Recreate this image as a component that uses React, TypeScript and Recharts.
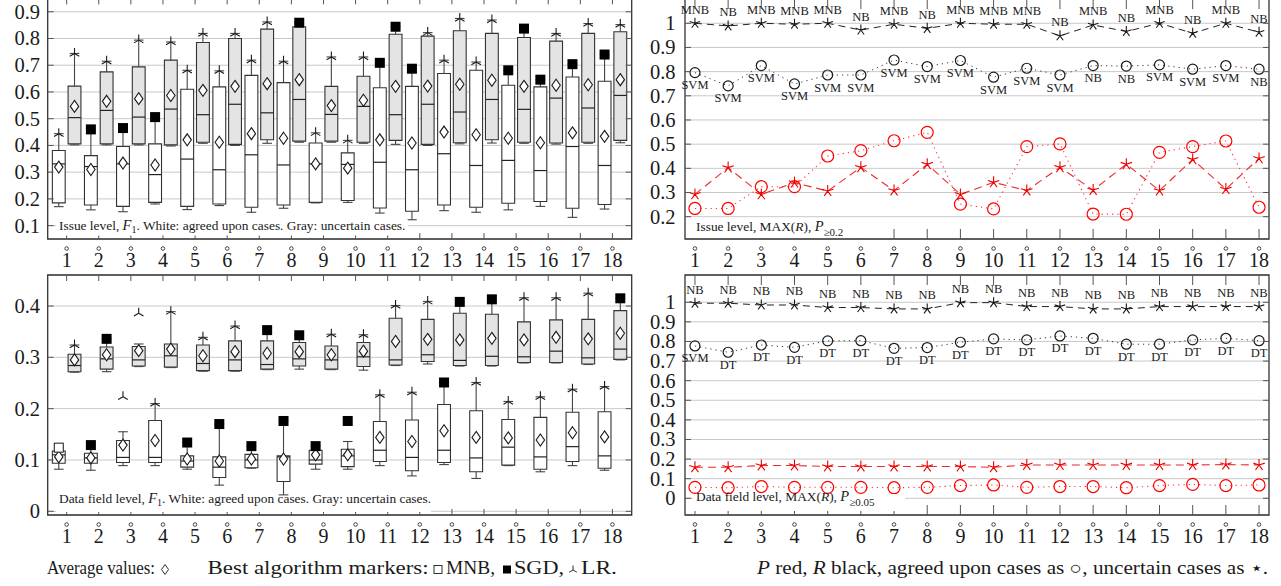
import React from 'react'
import { CartesianGrid, ComposedChart, Line, ReferenceArea, ReferenceLine, Scatter, XAxis, YAxis } from 'recharts'

const FONT = '"Liberation Serif", "Times New Roman", Times, serif'
const INK = '#1a1a1a'

const categories = [1, 2, 3, 4, 5, 6, 7, 8, 9, 10, 11, 12, 13, 14, 15, 16, 17, 18]

// boxes: [low whisker, q1, median, q3, high whisker]
const issueAgreedBoxes = [
  [0.171, 0.185, 0.331, 0.381, 0.444],
  [0.159, 0.177, 0.321, 0.362, 0.46],
  [0.152, 0.172, 0.331, 0.396, 0.465],
  [0.181, 0.187, 0.291, 0.406, 0.506],
  [0.16, 0.172, 0.349, 0.61, 0.681],
  [0.175, 0.181, 0.309, 0.619, 0.679],
  [0.15, 0.169, 0.365, 0.662, 0.719],
  [0.165, 0.177, 0.327, 0.635, 0.715],
  [0.185, 0.187, 0.331, 0.409, 0.447],
  [0.187, 0.194, 0.329, 0.372, 0.419],
  [0.147, 0.166, 0.337, 0.616, 0.709],
  [0.122, 0.154, 0.309, 0.621, 0.687],
  [0.156, 0.177, 0.369, 0.669, 0.719],
  [0.15, 0.169, 0.325, 0.681, 0.712],
  [0.159, 0.184, 0.344, 0.625, 0.681],
  [0.172, 0.19, 0.306, 0.619, 0.646],
  [0.131, 0.165, 0.396, 0.656, 0.704],
  [0.162, 0.179, 0.325, 0.64, 0.74],
]
const issueAgreedMeans = [0.319, 0.31, 0.334, 0.327, 0.421, 0.412, 0.444, 0.427, 0.331, 0.315, 0.421, 0.409, 0.45, 0.44, 0.427, 0.41, 0.447, 0.434]
const issueAgreedBest = [0.444, 0.46, 0.465, 0.506, 0.681, 0.679, 0.719, 0.715, 0.447, 0.419, 0.709, 0.687, 0.719, 0.712, 0.681, 0.646, 0.704, 0.74]
const issueAgreedAlgo = ['LR', 'SGD', 'SGD', 'SGD', 'LR', 'LR', 'LR', 'LR', 'LR', 'LR', 'SGD', 'SGD', 'LR', 'LR', 'SGD', 'SGD', 'SGD', 'SGD']

const issueUncertainBoxes = [
  [0.402, 0.406, 0.504, 0.622, 0.744],
  [0.402, 0.406, 0.531, 0.675, 0.715],
  [0.402, 0.406, 0.506, 0.694, 0.794],
  [0.398, 0.402, 0.536, 0.719, 0.787],
  [0.408, 0.412, 0.515, 0.785, 0.819],
  [0.4, 0.404, 0.554, 0.8, 0.819],
  [0.408, 0.421, 0.522, 0.835, 0.862],
  [0.412, 0.416, 0.572, 0.844, 0.859],
  [0.412, 0.416, 0.516, 0.621, 0.731],
  [0.408, 0.412, 0.546, 0.659, 0.731],
  [0.404, 0.419, 0.515, 0.816, 0.844],
  [0.4, 0.404, 0.554, 0.809, 0.822],
  [0.406, 0.41, 0.525, 0.829, 0.875],
  [0.409, 0.421, 0.572, 0.819, 0.869],
  [0.408, 0.412, 0.535, 0.804, 0.837],
  [0.405, 0.409, 0.577, 0.79, 0.819],
  [0.408, 0.412, 0.54, 0.819, 0.856],
  [0.41, 0.419, 0.587, 0.825, 0.852],
]
const issueUncertainMeans = [0.546, 0.565, 0.575, 0.587, 0.606, 0.621, 0.631, 0.646, 0.549, 0.569, 0.621, 0.622, 0.629, 0.644, 0.621, 0.625, 0.627, 0.646]
const issueUncertainBest = [0.744, 0.715, 0.794, 0.787, 0.819, 0.819, 0.862, 0.859, 0.731, 0.731, 0.844, 0.822, 0.875, 0.869, 0.837, 0.819, 0.856, 0.852]
const issueUncertainAlgo = ['LR', 'LR', 'LR', 'LR', 'LR', 'LR', 'LR', 'SGD', 'LR', 'LR', 'SGD', 'LR', 'LR', 'LR', 'SGD', 'LR', 'LR', 'LR']

const fieldAgreedBoxes = [
  [0.082, 0.0935, 0.11, 0.1175, 0.124],
  [0.08, 0.0935, 0.104, 0.113, 0.129],
  [0.089, 0.095, 0.105, 0.138, 0.155],
  [0.089, 0.095, 0.105, 0.177, 0.21],
  [0.082, 0.086, 0.098, 0.108, 0.134],
  [0.051, 0.066, 0.086, 0.106, 0.17],
  [0.084, 0.085, 0.1, 0.111, 0.127],
  [0.032, 0.058, 0.106, 0.108, 0.176],
  [0.082, 0.092, 0.1, 0.119, 0.127],
  [0.082, 0.087, 0.108, 0.121, 0.136],
  [0.089, 0.097, 0.119, 0.175, 0.227],
  [0.069, 0.079, 0.105, 0.178, 0.232],
  [0.091, 0.095, 0.119, 0.208, 0.251],
  [0.064, 0.077, 0.104, 0.196, 0.251],
  [0.089, 0.09, 0.125, 0.179, 0.214],
  [0.077, 0.082, 0.106, 0.183, 0.223],
  [0.089, 0.097, 0.126, 0.193, 0.238],
  [0.08, 0.084, 0.108, 0.194, 0.243],
]
const fieldAgreedMeans = [0.106, 0.104, 0.129, 0.138, 0.102, 0.098, 0.102, 0.102, 0.11, 0.11, 0.144, 0.136, 0.157, 0.144, 0.143, 0.139, 0.153, 0.145]
const fieldAgreedBest = [0.124, 0.129, 0.223, 0.21, 0.134, 0.17, 0.127, 0.176, 0.127, 0.176, 0.227, 0.232, 0.251, 0.251, 0.214, 0.223, 0.238, 0.243]
const fieldAgreedAlgo = ['MNB', 'SGD', 'LR', 'LR', 'SGD', 'SGD', 'SGD', 'SGD', 'SGD', 'SGD', 'LR', 'LR', 'SGD', 'LR', 'LR', 'LR', 'LR', 'LR']

const fieldUncertainBoxes = [
  [0.271, 0.272, 0.284, 0.306, 0.324],
  [0.272, 0.277, 0.297, 0.32, 0.336],
  [0.282, 0.283, 0.295, 0.321, 0.326],
  [0.28, 0.281, 0.303, 0.326, 0.389],
  [0.273, 0.274, 0.288, 0.324, 0.339],
  [0.273, 0.274, 0.295, 0.332, 0.361],
  [0.276, 0.277, 0.286, 0.332, 0.353],
  [0.277, 0.283, 0.297, 0.329, 0.343],
  [0.276, 0.277, 0.295, 0.322, 0.345],
  [0.275, 0.282, 0.301, 0.329, 0.344],
  [0.284, 0.285, 0.295, 0.376, 0.401],
  [0.287, 0.292, 0.305, 0.374, 0.409],
  [0.283, 0.284, 0.294, 0.386, 0.408],
  [0.283, 0.284, 0.302, 0.384, 0.413],
  [0.289, 0.29, 0.301, 0.369, 0.416],
  [0.289, 0.29, 0.312, 0.373, 0.416],
  [0.286, 0.287, 0.299, 0.374, 0.425],
  [0.295, 0.296, 0.316, 0.391, 0.415],
]
const fieldUncertainMeans = [0.295, 0.305, 0.313, 0.316, 0.303, 0.311, 0.308, 0.311, 0.305, 0.312, 0.331, 0.335, 0.334, 0.337, 0.334, 0.339, 0.336, 0.347]
const fieldUncertainBest = [0.324, 0.336, 0.386, 0.389, 0.339, 0.361, 0.353, 0.343, 0.345, 0.344, 0.401, 0.409, 0.408, 0.413, 0.416, 0.416, 0.425, 0.415]
const fieldUncertainAlgo = ['LR', 'SGD', 'LR', 'LR', 'LR', 'LR', 'SGD', 'SGD', 'LR', 'LR', 'LR', 'LR', 'SGD', 'SGD', 'LR', 'LR', 'LR', 'SGD']

// right panels: R black, P red; agreed = circle, uncertain = star
const issueRecallUncertain = [1.0, 0.989, 1.0, 0.996, 1.0, 0.972, 0.996, 0.979, 1.0, 0.996, 0.996, 0.948, 0.993, 0.966, 1.0, 0.959, 1.0, 0.963]
const issueRecallUncertainAlgo = ['MNB', 'NB', 'MNB', 'MNB', 'MNB', 'NB', 'MNB', 'NB', 'MNB', 'MNB', 'MNB', 'NB', 'MNB', 'NB', 'MNB', 'NB', 'MNB', 'NB']
const issueRecallAgreed = [0.796, 0.741, 0.825, 0.749, 0.786, 0.786, 0.848, 0.821, 0.846, 0.777, 0.814, 0.786, 0.825, 0.823, 0.828, 0.81, 0.825, 0.81]
const issueRecallAgreedAlgo = ['SVM', 'SVM', 'SVM', 'SVM', 'SVM', 'SVM', 'SVM', 'SVM', 'SVM', 'SVM', 'SVM', 'SVM', 'NB', 'NB', 'SVM', 'SVM', 'SVM', 'NB']
const issuePrecisionUncertain = [0.292, 0.403, 0.292, 0.341, 0.306, 0.404, 0.308, 0.417, 0.292, 0.342, 0.308, 0.404, 0.31, 0.417, 0.308, 0.437, 0.314, 0.441]
const issuePrecisionAgreed = [0.234, 0.234, 0.324, 0.324, 0.451, 0.473, 0.514, 0.549, 0.252, 0.232, 0.49, 0.501, 0.211, 0.21, 0.466, 0.49, 0.513, 0.239]

const fieldRecallUncertain = [0.995, 0.995, 0.986, 0.986, 0.973, 0.973, 0.966, 0.966, 0.998, 0.998, 0.978, 0.978, 0.966, 0.966, 0.978, 0.978, 0.978, 0.978]
const fieldRecallUncertainAlgo = ['NB', 'NB', 'NB', 'NB', 'NB', 'NB', 'NB', 'NB', 'NB', 'NB', 'NB', 'NB', 'NB', 'NB', 'NB', 'NB', 'NB', 'NB']
const fieldRecallAgreed = [0.777, 0.745, 0.782, 0.77, 0.803, 0.804, 0.765, 0.769, 0.796, 0.813, 0.808, 0.828, 0.816, 0.786, 0.786, 0.808, 0.816, 0.804]
const fieldRecallAgreedAlgo = ['SVM', 'DT', 'DT', 'DT', 'DT', 'DT', 'DT', 'DT', 'DT', 'DT', 'DT', 'DT', 'DT', 'DT', 'DT', 'DT', 'DT', 'DT']
const fieldPrecisionUncertain = [0.158, 0.158, 0.167, 0.167, 0.162, 0.162, 0.162, 0.162, 0.162, 0.158, 0.17, 0.17, 0.17, 0.17, 0.17, 0.17, 0.172, 0.17]
const fieldPrecisionAgreed = [0.056, 0.054, 0.06, 0.056, 0.056, 0.056, 0.054, 0.056, 0.065, 0.068, 0.056, 0.06, 0.06, 0.054, 0.065, 0.071, 0.065, 0.068]

const issueF1Ticks = [0.1, 0.2, 0.3, 0.4, 0.5, 0.6, 0.7, 0.8, 0.9]
const fieldF1Ticks = [0, 0.1, 0.2, 0.3, 0.4]
const issueMaxTicks = [0.2, 0.3, 0.4, 0.5, 0.6, 0.7, 0.8, 0.9, 1]
const fieldMaxTicks = [0, 0.1, 0.2, 0.3, 0.4, 0.5, 0.6, 0.7, 0.8, 0.9, 1]

const fmtTick = (v: number) => (v === 0 ? '0' : v === 1 ? '1' : v.toFixed(1))

function YTick(props: any) {
  const { y, payload, plotL, plotR, gap } = props
  return (
    <g>
      <line x1={plotL} x2={plotL + 6} y1={y} y2={y} stroke="#555" />
      <line x1={plotR - 6} x2={plotR} y1={y} y2={y} stroke="#555" />
      <text x={plotL - gap} y={y} dy="0.34em" textAnchor="end" fontFamily={FONT} fontSize={20.5} fill={INK}>
        {fmtTick(payload.value)}
      </text>
    </g>
  )
}

function XTick(props: any) {
  const { x, payload, plotT, plotB, len } = props
  return (
    <g>
      <line x1={x} x2={x} y1={plotB} y2={plotB - len} stroke="#555" />
      <line x1={x} x2={x} y1={plotT} y2={plotT + len} stroke="#555" />
      <circle cx={x} cy={plotB + 9.5} r={1.8} fill="none" stroke={INK} strokeWidth={0.8} />
      <text x={x} y={plotB + 27.5} textAnchor="middle" fontFamily={FONT} fontSize={20} fill={INK}>
        {payload.value}
      </text>
    </g>
  )
}

function starPath(cx: number, cy: number, r: number) {
  let d = ''
  for (let k = 0; k < 5; k++) {
    const a = ((-90 + 72 * k) * Math.PI) / 180
    d += `M${cx},${cy}L${cx + r * Math.cos(a)},${cy + r * Math.sin(a)}`
  }
  return d
}

function triPath(cx: number, cy: number, r: number) {
  return [-90, 30, 150]
    .map((deg) => {
      const a = (deg * Math.PI) / 180
      return `M${cx},${cy}L${cx + r * Math.cos(a)},${cy + r * Math.sin(a)}`
    })
    .join('')
}

const Diamond = (p: any) => (
  <path
    d={`M${p.cx},${p.cy - 6}L${p.cx + 4.2},${p.cy}L${p.cx},${p.cy + 6}L${p.cx - 4.2},${p.cy}Z`}
    fill="#fff"
    stroke={INK}
    strokeWidth={1.1}
  />
)

const BestMarker = (p: any) => {
  const { cx, cy, payload } = p
  if (payload.algo === 'SGD') return <rect x={cx - 5} y={cy - 5} width={10} height={10} fill="#000" />
  if (payload.algo === 'MNB')
    return <rect x={cx - 4.5} y={cy - 4.5} width={9} height={9} fill="#fff" stroke={INK} strokeWidth={1} />
  return <path d={triPath(cx, cy, 5.5)} stroke={INK} strokeWidth={1.1} fill="none" />
}

type Group = { boxes: number[][]; means: number[]; best: number[]; algo: string[] }

function BoxPanel({
  top,
  marginTop,
  plotH,
  yDomain,
  yTicks,
  agreed,
  uncertain,
}: {
  top: number
  marginTop: number
  plotH: number
  yDomain: [number, number]
  yTicks: number[]
  agreed: Group
  uncertain: Group
}) {
  const W = 640
  const yW = 47.7
  const mr = 8.3
  const xH = 34
  const H = marginTop + plotH + xH
  const xDomain: [number, number] = [0.41, 18.6]
  const off = 0.245
  const hw = 0.2
  const cap = 0.15
  const groups = [
    { dx: -off, fill: '#ffffff', ...agreed },
    { dx: off, fill: '#e4e4e4', ...uncertain },
  ]
  const meanPts = groups.flatMap((g) => categories.map((c, i) => ({ x: c + g.dx, y: g.means[i] })))
  const bestPts = groups.flatMap((g) => categories.map((c, i) => ({ x: c + g.dx, y: g.best[i], algo: g.algo[i] })))
  const whisker = { stroke: '#444', strokeWidth: 1.1 }
  return (
    <div style={{ position: 'absolute', left: 0, top }}>
      <ComposedChart width={W} height={H} margin={{ top: marginTop, right: mr, bottom: 0, left: 0 }}>
        <CartesianGrid vertical={false} stroke="#c9c9c9" />
        <XAxis
          type="number"
          dataKey="x"
          domain={xDomain}
          ticks={categories}
          interval={0}
          allowDataOverflow
          axisLine={false}
          tickLine={false}
          height={xH}
          tick={<XTick plotT={marginTop} plotB={marginTop + plotH} len={6} />}
        />
        <YAxis
          type="number"
          domain={yDomain}
          ticks={yTicks}
          interval={0}
          allowDataOverflow
          axisLine={false}
          tickLine={false}
          width={yW}
          tick={<YTick plotL={yW} plotR={W - mr} gap={7.7} />}
        />
        <ReferenceArea x1={xDomain[0]} x2={xDomain[1]} y1={yDomain[0]} y2={yDomain[1]} fill="none" stroke="#333" strokeWidth={1.3} ifOverflow="visible" />
        {groups.map((g, gi) =>
          categories.map((c, i) => {
            const [lo, q1, md, q3, hi] = g.boxes[i]
            const x = c + g.dx
            return (
              <React.Fragment key={`b${gi}-${i}`}>
                <ReferenceLine segment={[{ x, y: lo }, { x, y: q1 }]} {...whisker} />
                <ReferenceLine segment={[{ x, y: q3 }, { x, y: hi }]} {...whisker} />
                <ReferenceLine segment={[{ x: x - cap, y: lo }, { x: x + cap, y: lo }]} {...whisker} />
                <ReferenceLine segment={[{ x: x - cap, y: hi }, { x: x + cap, y: hi }]} {...whisker} />
                <ReferenceArea x1={x - hw} x2={x + hw} y1={q1} y2={q3} fill={g.fill} fillOpacity={1} stroke="#333" strokeWidth={1.1} />
                <ReferenceLine segment={[{ x: x - hw, y: md }, { x: x + hw, y: md }]} stroke="#222" strokeWidth={1.2} />
              </React.Fragment>
            )
          }),
        )}
        <Scatter data={meanPts} dataKey="y" shape={Diamond} isAnimationActive={false} />
        <Scatter data={bestPts} dataKey="y" shape={BestMarker} isAnimationActive={false} />
      </ComposedChart>
    </div>
  )
}

const makeDot = (kind: 'star' | 'circle', color: string, r: number, labels?: string[], below?: boolean) => (p: any) => {
  const { cx, cy, index } = p
  return (
    <g key={`d${kind}${color}${index}`}>
      {kind === 'star' ? (
        <path d={starPath(cx, cy, r)} stroke={color} strokeWidth={1.1} fill="none" />
      ) : (
        <circle cx={cx} cy={cy} r={r} stroke={color} strokeWidth={1.2} fill="none" />
      )}
      {labels && (
        <text x={cx} y={below ? cy + 16.5 : cy - 9.5} textAnchor="middle" fontFamily={FONT} fontSize={12.5} fill={INK}>
          {labels[index]}
        </text>
      )}
    </g>
  )
}

function LinePanel({
  top,
  marginTop,
  plotH,
  yDomain,
  yTicks,
  rUnc,
  rUncLabels,
  rAgr,
  rAgrLabels,
  pUnc,
  pAgr,
}: {
  top: number
  marginTop: number
  plotH: number
  yDomain: [number, number]
  yTicks: number[]
  rUnc: number[]
  rUncLabels: string[]
  rAgr: number[]
  rAgrLabels: string[]
  pUnc: number[]
  pAgr: number[]
}) {
  const W = 640
  const yW = 45
  const mr = 11
  const xH = 34
  const H = marginTop + plotH + xH
  const xDomain: [number, number] = [0.7, 18.3]
  const rows = categories.map((c, i) => ({ x: c, rUnc: rUnc[i], rAgr: rAgr[i], pUnc: pUnc[i], pAgr: pAgr[i] }))
  return (
    <div style={{ position: 'absolute', left: 640, top }}>
      <ComposedChart width={W} height={H} data={rows} margin={{ top: marginTop, right: mr, bottom: 0, left: 0 }}>
        <CartesianGrid vertical={false} stroke="#c9c9c9" />
        <XAxis
          type="number"
          dataKey="x"
          domain={xDomain}
          ticks={categories}
          interval={0}
          axisLine={false}
          tickLine={false}
          height={xH}
          tick={<XTick plotT={marginTop} plotB={marginTop + plotH} len={10} />}
        />
        <YAxis
          type="number"
          domain={yDomain}
          ticks={yTicks}
          interval={0}
          axisLine={false}
          tickLine={false}
          width={yW}
          tick={<YTick plotL={yW} plotR={W - mr} gap={9.5} />}
        />
        <ReferenceArea x1={xDomain[0]} x2={xDomain[1]} y1={yDomain[0]} y2={yDomain[1]} fill="none" stroke="#333" strokeWidth={1.3} ifOverflow="visible" />
        <Line dataKey="pAgr" stroke="#ff3030" strokeWidth={1.1} strokeDasharray="1.2 4" dot={makeDot('circle', '#ff0000', 6)} activeDot={false} isAnimationActive={false} />
        <Line dataKey="pUnc" stroke="#ee2a2a" strokeWidth={1.1} strokeDasharray="8 5" dot={makeDot('star', '#ee0000', 6)} activeDot={false} isAnimationActive={false} />
        <Line dataKey="rAgr" stroke="#333" strokeWidth={1} strokeDasharray="1.2 4" dot={makeDot('circle', INK, 5, rAgrLabels, true)} activeDot={false} isAnimationActive={false} />
        <Line dataKey="rUnc" stroke="#222" strokeWidth={1} strokeDasharray="7 5" dot={makeDot('star', INK, 5.5, rUncLabels, false)} activeDot={false} isAnimationActive={false} />
      </ComposedChart>
    </div>
  )
}

function Overlay() {
  const t = { fontFamily: FONT, fill: INK }
  const cap = { ...t, fontSize: 18, lengthAdjust: 'spacingAndGlyphs' as const }
  return (
    <svg width={1281} height={586} style={{ position: 'absolute', left: 0, top: 0, pointerEvents: 'none' }}>
      <rect x={56} y={219.5} width={352} height={16} fill="#fff" />
      <text x={59} y={230} fontSize={13.4} {...t}>
        Issue level, <tspan fontStyle="italic" fontSize={14.5}>F</tspan>
        <tspan fontSize={10} dy={3}>1</tspan>
        <tspan dy={-3}>. White: agreed upon cases. Gray: uncertain cases.</tspan>
      </text>

      <rect x={693} y={220} width={180} height={18} fill="#fff" />
      <text x={696} y={230.5} fontSize={13.4} {...t}>
        Issue level, MAX(<tspan fontStyle="italic">R</tspan>), <tspan fontStyle="italic" fontSize={14.5}>P</tspan>
        <tspan fontSize={11} dy={5}>≥0.2</tspan>
      </text>

      <rect x={56} y={496} width={375} height={16} fill="#fff" />
      <text x={59} y={503} fontSize={13.4} {...t}>
        Data field level, <tspan fontStyle="italic" fontSize={14.5}>F</tspan>
        <tspan fontSize={10} dy={3}>1</tspan>
        <tspan dy={-3}>. White: agreed upon cases. Gray: uncertain cases.</tspan>
      </text>

      <rect x={693} y={494} width={212} height={17} fill="#fff" />
      <text x={696} y={501} fontSize={13.4} {...t}>
        Data field level, MAX(<tspan fontStyle="italic">R</tspan>), <tspan fontStyle="italic" fontSize={14.5}>P</tspan>
        <tspan fontSize={11} dy={5}>≥0.05</tspan>
      </text>

      <text x={47} y={574} textLength={108} {...cap}>Average values:</text>
      <path d="M165,564.5L168.5,569.5L165,574.5L161.5,569.5Z" fill="none" stroke={INK} strokeWidth={0.9} />
      <text x={207.6} y={574} textLength={221} {...cap}>Best algorithm markers:</text>
      <rect x={434} y={565.5} width={8} height={8} fill="none" stroke={INK} strokeWidth={0.9} />
      <text x={446} y={574} textLength={49} {...cap}>MNB,</text>
      <rect x={503} y={565.5} width={8} height={8} fill="#000" />
      <text x={514} y={574} textLength={50} {...cap}>SGD,</text>
      <path d={triPath(573, 570, 4.5)} stroke={INK} strokeWidth={0.9} fill="none" />
      <text x={581} y={574} textLength={36} {...cap}>LR.</text>

      <text x={757} y={574} textLength={511} {...cap}>
        <tspan fontStyle="italic">P</tspan> red, <tspan fontStyle="italic">R</tspan> black, agreed upon cases as ○, uncertain cases as ⋆.
      </text>
    </svg>
  )
}

export default function App() {
  return (
    <div style={{ position: 'absolute', left: 0, top: 0, width: 1281, height: 586, overflow: 'hidden', background: '#fff' }}>
      <BoxPanel
        top={-20}
        marginTop={18.4}
        plotH={240.6}
        yDomain={[0.05, 0.95]}
        yTicks={issueF1Ticks}
        agreed={{ boxes: issueAgreedBoxes, means: issueAgreedMeans, best: issueAgreedBest, algo: issueAgreedAlgo }}
        uncertain={{ boxes: issueUncertainBoxes, means: issueUncertainMeans, best: issueUncertainBest, algo: issueUncertainAlgo }}
      />
      <BoxPanel
        top={255}
        marginTop={20}
        plotH={240}
        yDomain={[-0.0072, 0.4604]}
        yTicks={fieldF1Ticks}
        agreed={{ boxes: fieldAgreedBoxes, means: fieldAgreedMeans, best: fieldAgreedBest, algo: fieldAgreedAlgo }}
        uncertain={{ boxes: fieldUncertainBoxes, means: fieldUncertainMeans, best: fieldUncertainBest, algo: fieldUncertainAlgo }}
      />
      <LinePanel
        top={-20}
        marginTop={19.1}
        plotH={239.9}
        yDomain={[0.1077, 1.1]}
        yTicks={issueMaxTicks}
        rUnc={issueRecallUncertain}
        rUncLabels={issueRecallUncertainAlgo}
        rAgr={issueRecallAgreed}
        rAgrLabels={issueRecallAgreedAlgo}
        pUnc={issuePrecisionUncertain}
        pAgr={issuePrecisionAgreed}
      />
      <LinePanel
        top={255}
        marginTop={20}
        plotH={240}
        yDomain={[-0.0852, 1.139]}
        yTicks={fieldMaxTicks}
        rUnc={fieldRecallUncertain}
        rUncLabels={fieldRecallUncertainAlgo}
        rAgr={fieldRecallAgreed}
        rAgrLabels={fieldRecallAgreedAlgo}
        pUnc={fieldPrecisionUncertain}
        pAgr={fieldPrecisionAgreed}
      />
      <Overlay />
    </div>
  )
}
